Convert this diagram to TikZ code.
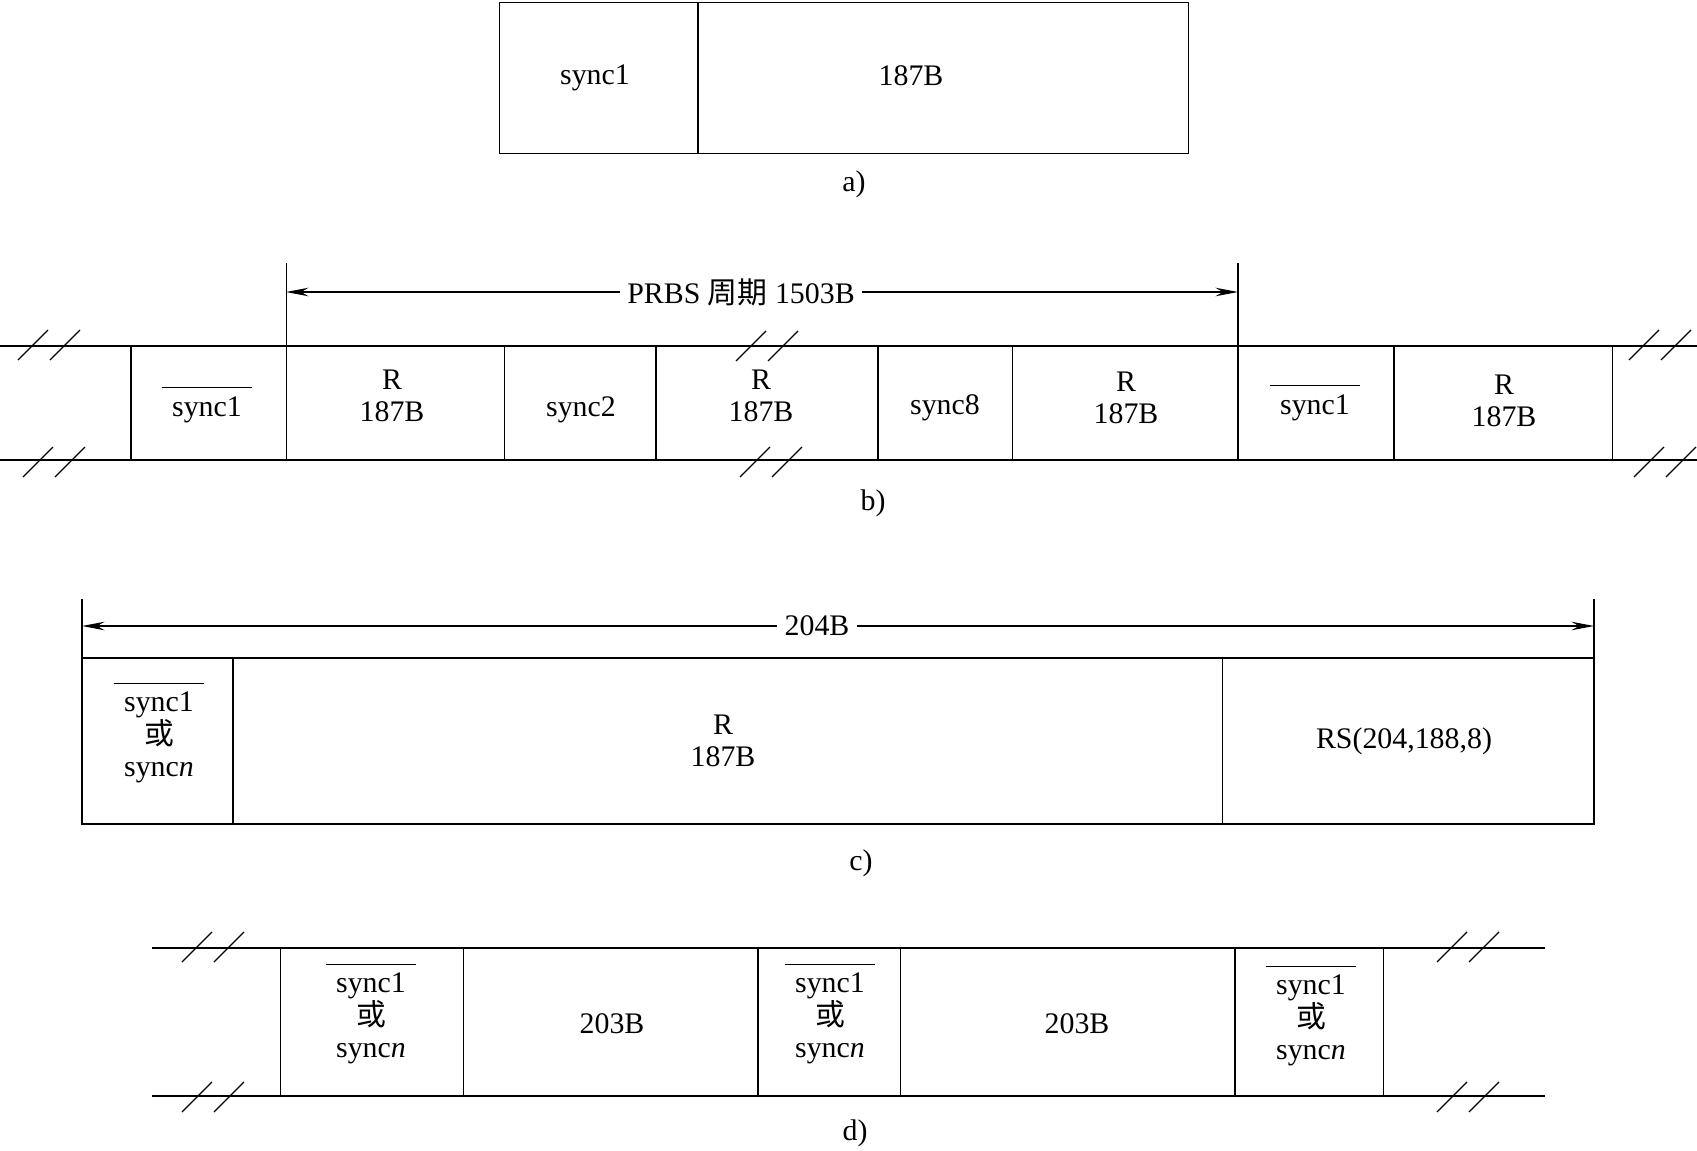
\documentclass[tikz,border=0pt]{standalone}
\usepackage{fontspec}
\setmainfont{Liberation Serif}
\newfontfamily\cjk{Noto Sans CJK SC}
\usetikzlibrary{arrows.meta}
\newcommand{\ovsync}{\vbox{\hrule height 1pt\vskip 4.5pt\hbox{\kern6pt sync1\kern6pt}}}

\begin{document}
\begin{tikzpicture}[x=0.02cm, y=-0.02cm,
  frame/.style={line width=0.95pt},
  cell/.style={line width=0.5pt},
  lbl/.style={font=\fontsize{17}{18.5}\selectfont, align=center, inner sep=0pt},
  dimlbl/.style={font=\fontsize{17}{18.5}\selectfont, inner sep=4pt},
  arr/.style={line width=0.7pt, -{Stealth[length=0.45cm,width=0.17cm]}},
  brk/.style={line width=0.65pt},
  brkpair/.pic={\draw[brk] (-31,15) -- (-1,-15) (1,15) -- (31,-15);}
]
\useasboundingbox (0,0) rectangle (1697,1150);

% a) packet
\draw[cell] (499,2) rectangle (1188,153);
\draw[frame] (698,2) -- (698,153);
\node[lbl] (async) at (595,78) {sync1};
\node[lbl] (adata) at (911,76) {187B};
\node[lbl] (capa) at (854,184) {a)};

% b) randomised stream
\draw[frame] (0,346) -- (1697,346) (0,460) -- (1697,460);
\foreach \x in {131,656,878,1238,1394} \draw[frame] (\x,346) -- (\x,460);
\foreach \x in {286,504,1012,1612} \draw[cell] (\x,346) -- (\x,460);
\draw[cell] (286,263) -- (286,346);
\draw[frame] (1238,263) -- (1238,346);
\coordinate (pl) at (286,292);
\coordinate (pr) at (1238,292);
\node[dimlbl] (prbs) at (741,292) {PRBS {\cjk 周期} 1503B};
\draw[arr] (prbs.west) -- (pl);
\draw[arr] (prbs.east) -- (pr);
\pic at (49,345) {brkpair}; \pic at (54,462) {brkpair};
\pic at (767,346) {brkpair}; \pic at (771,462) {brkpair};
\pic at (1660,345) {brkpair}; \pic at (1665,462) {brkpair};
\node[lbl, anchor=base] (bs1) at (207,416) {\ovsync};
\node[lbl] (br1) at (392,396) {R\\187B};
\node[lbl, anchor=base] (bs2) at (581,416) {sync2};
\node[lbl] (br2) at (761,396) {R\\187B};
\node[lbl, anchor=base] (bs8) at (945,414) {sync8};
\node[lbl] (br3) at (1126,398) {R\\187B};
\node[lbl, anchor=base] (bs9) at (1315,414) {\ovsync};
\node[lbl] (br4) at (1504,401) {R\\187B};
\node[lbl] (capb) at (873,503) {b)};

% c) RS coded packet
\draw[frame] (82,599) -- (82,824) -- (1594,824) -- (1594,599);
\draw[frame] (82,658) -- (1594,658);
\draw[frame] (233,658) -- (233,824);
\draw[cell] (1222,658) -- (1222,824);
\coordinate (cl) at (82,626);
\coordinate (cr) at (1594,626);
\node[dimlbl] (len) at (817,626) {204B};
\draw[arr] (len.west) -- (cl);
\draw[arr] (len.east) -- (cr);
\node[lbl] (csync) at (159,733) {\ovsync\\{\cjk 或}\\sync\textit{n}};
\node[lbl] (cdata) at (723,741) {R\\187B};
\node[lbl] (crs) at (1404,741) {RS(204,188,8)};
\node[lbl] (capc) at (861,863) {c)};

% d) interleaved stream
\draw[frame] (152,948) -- (1545,948) (152,1096) -- (1545,1096);
\foreach \x in {758,1235} \draw[frame] (\x,948) -- (\x,1096);
\foreach \x in {280,463,900,1383} \draw[cell] (\x,948) -- (\x,1096);
\pic at (213,947) {brkpair}; \pic at (213,1097) {brkpair};
\pic at (1468,947) {brkpair}; \pic at (1468,1097) {brkpair};
\node[lbl] (dsync1) at (371,1014) {\ovsync\\{\cjk 或}\\sync\textit{n}};
\node[lbl] (ddata1) at (612,1024) {203B};
\node[lbl] (dsync2) at (830,1014) {\ovsync\\{\cjk 或}\\sync\textit{n}};
\node[lbl] (ddata2) at (1077,1024) {203B};
\node[lbl] (dsync3) at (1311,1016) {\ovsync\\{\cjk 或}\\sync\textit{n}};
\node[lbl] (capd) at (855,1133) {d)};
\end{tikzpicture}
\end{document}
